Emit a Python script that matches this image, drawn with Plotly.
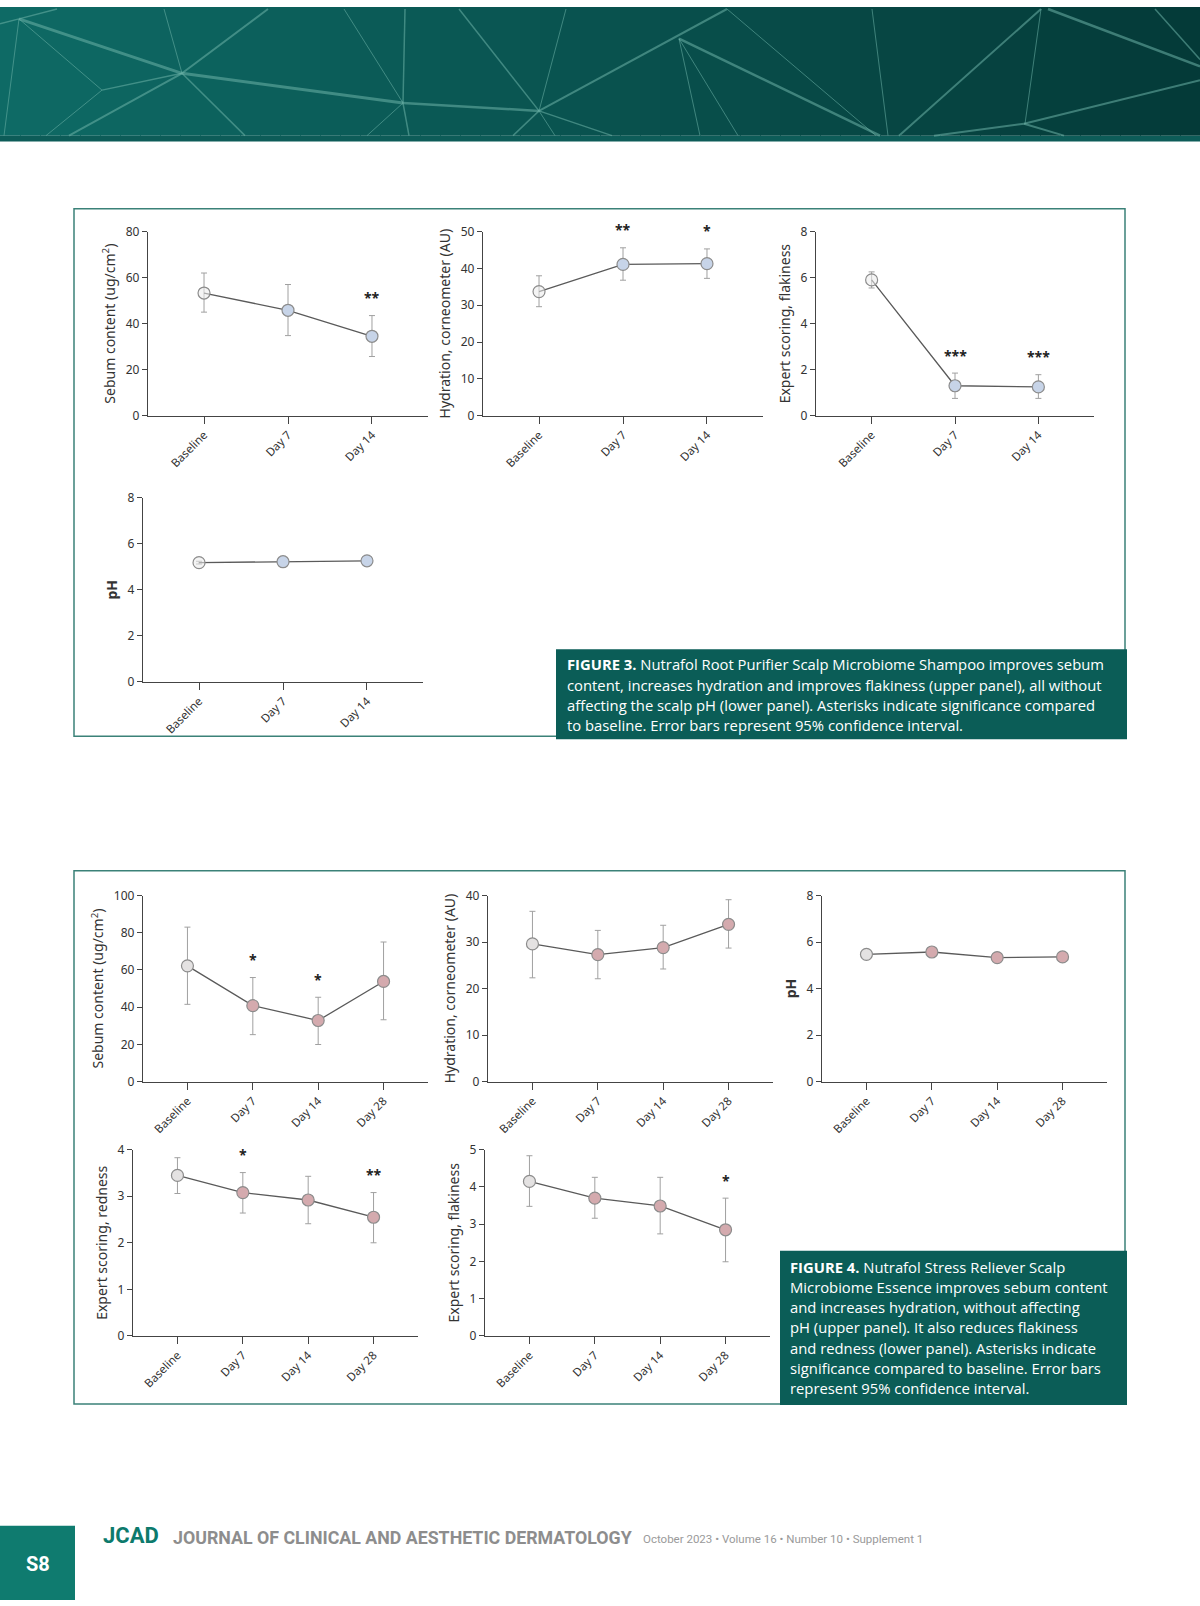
import plotly.graph_objects as go

W, H = 1200, 1606

# ---------------- DATA ----------------
cats3 = ["Baseline", "Day 7", "Day 14"]
cats4 = ["Baseline", "Day 7", "Day 14", "Day 28"]

f3_sebum_mean = [53.3, 45.8, 34.5]
f3_sebum_up = [62.0, 57.0, 43.5]
f3_sebum_lo = [45.0, 34.8, 25.7]
f3_sebum_sig = ["", "", "**"]

f3_hydr_mean = [33.7, 41.1, 41.3]
f3_hydr_up = [38.0, 45.6, 45.3]
f3_hydr_lo = [29.6, 36.8, 37.3]
f3_hydr_sig = ["", "**", "*"]

f3_flak_mean = [5.9, 1.3, 1.25]
f3_flak_up = [6.25, 1.85, 1.78]
f3_flak_lo = [5.55, 0.75, 0.75]
f3_flak_sig = ["", "***", "***"]

f3_ph_mean = [5.18, 5.22, 5.26]
f3_ph_up = [5.24, 5.27, 5.30]
f3_ph_lo = [5.12, 5.17, 5.22]
f3_ph_sig = ["", "", ""]

f4_sebum_mean = [62.2, 40.8, 32.8, 53.8]
f4_sebum_up = [83.0, 55.9, 45.3, 75.0]
f4_sebum_lo = [41.5, 25.2, 19.9, 33.2]
f4_sebum_sig = ["", "*", "*", ""]

f4_hydr_mean = [29.6, 27.3, 28.8, 33.8]
f4_hydr_up = [36.6, 32.5, 33.6, 39.1]
f4_hydr_lo = [22.3, 22.1, 24.2, 28.7]
f4_hydr_sig = ["", "", "", ""]

f4_ph_mean = [5.47, 5.57, 5.33, 5.36]
f4_ph_up = [5.52, 5.62, 5.38, 5.41]
f4_ph_lo = [5.42, 5.52, 5.28, 5.31]
f4_ph_sig = ["", "", "", ""]

f4_red_mean = [3.45, 3.08, 2.92, 2.55]
f4_red_up = [3.83, 3.51, 3.43, 3.08]
f4_red_lo = [3.06, 2.64, 2.41, 2.00]
f4_red_sig = ["", "*", "", "**"]

f4_flak_mean = [4.15, 3.70, 3.49, 2.85]
f4_flak_up = [4.84, 4.26, 4.26, 3.70]
f4_flak_lo = [3.48, 3.16, 2.74, 1.99]
f4_flak_sig = ["", "", "", "*"]

caption3 = [
    "<b>FIGURE 3.</b> Nutrafol Root Purifier Scalp Microbiome Shampoo improves sebum",
    "content, increases hydration and improves flakiness (upper panel), all without",
    "affecting the scalp pH (lower panel). Asterisks indicate significance compared",
    "to baseline. Error bars represent 95% confidence interval.",
]
caption4 = [
    "<b>FIGURE 4.</b> Nutrafol Stress Reliever Scalp",
    "Microbiome Essence improves sebum content",
    "and increases hydration, without affecting",
    "pH (upper panel). It also reduces flakiness",
    "and redness (lower panel). Asterisks indicate",
    "significance compared to baseline. Error bars",
    "represent 95% confidence interval.",
]

# ---------------- HELPERS ----------------
def px(x):
    return x / W


def py(y):
    return 1 - y / H


fig = go.Figure()
shapes = []
annotations = []

CHART_FONT = "Noto Sans, Open Sans, sans-serif"

FIG3_BASE = "rgba(235,235,235,0.55)"
FIG3_FILL = "#c7d4e8"
FIG4_BASE = "#e4e2e2"
FIG4_FILL = "#d4aaae"


def add_panel(i, cats, mean, up, lo, sig, ymax, dtick, ytitle, xd, yd, base_col, fill_col, pad):
    xa = "x" if i == 1 else f"x{i}"
    ya = "y" if i == 1 else f"y{i}"
    n = len(cats)
    colors = [base_col] + [fill_col] * (n - 1)
    err_p = [u - m for u, m in zip(up, mean)]
    err_m = [m - l for m, l in zip(mean, lo)]
    fig.add_trace(go.Scatter(
        x=cats, y=mean, xaxis=xa, yaxis=ya, mode="lines+markers",
        line=dict(color="#5a5a5a", width=1.3),
        marker=dict(size=12, color=colors, line=dict(color="#8c8c8c", width=1.2)),
        error_y=dict(type="data", symmetric=False, array=err_p, arrayminus=err_m,
                     color="#a0a0a0", thickness=1, width=3),
        showlegend=False, hoverinfo="skip",
    ))
    xkey = "xaxis" if i == 1 else f"xaxis{i}"
    ykey = "yaxis" if i == 1 else f"yaxis{i}"
    fig.update_layout(**{
        xkey: dict(domain=[px(xd[0]), px(xd[1])], anchor=ya, type="category",
                   range=[-pad, n - 1 + pad], showline=True, linecolor="#444",
                   linewidth=1.4, ticks="outside", ticklen=7, tickwidth=1.4,
                   tickcolor="#444", tickangle=-45, showgrid=False, zeroline=False,
                   tickfont=dict(family=CHART_FONT, size=11.5, color="#333"),
                   fixedrange=True),
        ykey: dict(domain=[py(yd[1]), py(yd[0])], anchor=xa, range=[0, ymax],
                   tickmode="linear", tick0=0, dtick=dtick, showline=True,
                   linecolor="#444", linewidth=1.4, ticks="outside", ticklen=5,
                   tickwidth=1.4, tickcolor="#444", showgrid=False, zeroline=False,
                   tickfont=dict(family=CHART_FONT, size=12, color="#333"),
                   title=dict(text=ytitle, standoff=6,
                              font=dict(family=CHART_FONT, size=14, color="#333")),
                   fixedrange=True),
    })
    for k, s in enumerate(sig):
        if s:
            annotations.append(dict(
                x=k, y=up[k], xref=xa, yref=ya, text="<b>" + s + "</b>", showarrow=False,
                xanchor="center", yanchor="middle", yshift=18,
                font=dict(family=CHART_FONT, size=14, color="#222"),
            ))


P3 = 0.667
P4 = 0.68
add_panel(1, cats3, f3_sebum_mean, f3_sebum_up, f3_sebum_lo, f3_sebum_sig, 80, 20,
          "Sebum content (ug/cm<sup>2</sup>)", (148, 428), (225, 411), FIG3_BASE, FIG3_FILL, P3)
add_panel(2, cats3, f3_hydr_mean, f3_hydr_up, f3_hydr_lo, f3_hydr_sig, 50, 10,
          "Hydration, corneometer (AU)", (483, 763), (225, 411), FIG3_BASE, FIG3_FILL, P3)
add_panel(3, cats3, f3_flak_mean, f3_flak_up, f3_flak_lo, f3_flak_sig, 8, 2,
          "Expert scoring, flakiness", (816, 1094), (225, 411), FIG3_BASE, FIG3_FILL, P3)
add_panel(4, cats3, f3_ph_mean, f3_ph_up, f3_ph_lo, f3_ph_sig, 8, 2,
          "<b>pH</b>", (143, 423), (494, 680), FIG3_BASE, FIG3_FILL, P3)

add_panel(5, cats4, f4_sebum_mean, f4_sebum_up, f4_sebum_lo, f4_sebum_sig, 100, 20,
          "Sebum content (ug/cm<sup>2</sup>)", (143, 428), (896, 1084), FIG4_BASE, FIG4_FILL, P4)
add_panel(6, cats4, f4_hydr_mean, f4_hydr_up, f4_hydr_lo, f4_hydr_sig, 40, 10,
          "Hydration, corneometer (AU)", (488, 773), (896, 1084), FIG4_BASE, FIG4_FILL, P4)
add_panel(7, cats4, f4_ph_mean, f4_ph_up, f4_ph_lo, f4_ph_sig, 8, 2,
          "<b>pH</b>", (822, 1107), (896, 1084), FIG4_BASE, FIG4_FILL, P4)
add_panel(8, cats4, f4_red_mean, f4_red_up, f4_red_lo, f4_red_sig, 4, 1,
          "Expert scoring, redness", (133, 418), (1153, 1341), FIG4_BASE, FIG4_FILL, P4)
add_panel(9, cats4, f4_flak_mean, f4_flak_up, f4_flak_lo, f4_flak_sig, 5, 1,
          "Expert scoring, flakiness", (485, 770), (1153, 1341), FIG4_BASE, FIG4_FILL, P4)

# ---------------- HEADER (decoration) ----------------
N = 60
c0 = (14, 106, 101)
c1 = (4, 58, 56)
for k in range(N):
    t = k / (N - 1)
    r = round(c0[0] + (c1[0] - c0[0]) * t)
    g = round(c0[1] + (c1[1] - c0[1]) * t)
    b = round(c0[2] + (c1[2] - c0[2]) * t)
    shapes.append(dict(type="rect", xref="paper", yref="paper",
                       x0=px(k * W / N), x1=px((k + 1) * W / N + 1), y0=py(128), y1=py(-2),
                       fillcolor=f"rgb({r},{g},{b})", line=dict(width=0), layer="below"))
shapes.append(dict(type="rect", xref="paper", yref="paper", x0=0, x1=1, y0=py(134), y1=py(128),
                   fillcolor="#0d5c58", line=dict(width=0), layer="below"))

segs = [
    (0, 15, 19, 10, 1.5), (19, 10, 57, 0, 1.5),
    (19, 10, 182, 65, 3), (182, 65, 403, 95, 3), (403, 95, 539, 103, 2.5),
    (539, 103, 727, 0, 2), (679, 30, 880, 128, 2.5), (679, 30, 700, 128, 1),
    (679, 30, 738, 128, 1), (727, 0, 876, 128, 1), (872, 0, 888, 128, 1),
    (1041, 0, 899, 128, 2), (1041, 0, 1025, 116, 1), (1048, 0, 1200, 58, 2.5),
    (1200, 72, 1024, 116, 2), (1024, 116, 934, 128, 2), (1024, 116, 1064, 128, 2),
    (1155, 0, 1200, 51, 1.5), (164, 0, 182, 65, 1), (182, 65, 245, 128, 1.5),
    (268, 0, 182, 65, 2), (182, 65, 69, 128, 2), (19, 10, 102, 82, 1),
    (102, 82, 46, 128, 1), (102, 82, 182, 65, 1.5), (19, 10, 4, 128, 1),
    (344, 0, 403, 95, 1), (403, 95, 409, 128, 1.5), (405, 0, 403, 95, 1.5),
    (403, 95, 367, 128, 1), (459, 0, 539, 103, 1.5), (539, 103, 555, 128, 1),
    (566, 0, 539, 103, 1), (539, 103, 513, 128, 1.5), (539, 103, 612, 128, 1.5),
]
for (x0, y0, x1, y1, w) in segs:
    shapes.append(dict(type="line", xref="paper", yref="paper",
                       x0=px(x0), y0=py(y0), x1=px(x1), y1=py(y1),
                       line=dict(color="rgba(110,178,168,0.55)", width=w)))

# ---------------- FRAMES ----------------
FRAME = "#3b8178"
shapes.append(dict(type="rect", xref="paper", yref="paper", x0=px(74), x1=px(1125),
                   y0=py(735), y1=py(202), line=dict(color=FRAME, width=1.5)))
shapes.append(dict(type="rect", xref="paper", yref="paper", x0=px(74), x1=px(1125),
                   y0=py(1410), y1=py(871), line=dict(color=FRAME, width=1.5)))

# ---------------- CAPTIONS ----------------
CAP = "#0b5d57"
shapes.append(dict(type="rect", xref="paper", yref="paper", x0=px(556), x1=px(1127),
                   y0=py(738), y1=py(647), fillcolor=CAP, line=dict(width=0)))
shapes.append(dict(type="rect", xref="paper", yref="paper", x0=px(780), x1=px(1127),
                   y0=py(1411), y1=py(1255), fillcolor=CAP, line=dict(width=0)))
CAP_FONT = "Open Sans, Noto Sans, sans-serif"
for k, line in enumerate(caption3):
    annotations.append(dict(x=px(565), y=py(662.5 + k * 20.5), xref="paper", yref="paper",
                            text=line, showarrow=False, xanchor="left", yanchor="middle",
                            font=dict(family=CAP_FONT, size=14.8, color="white")))
for k, line in enumerate(caption4):
    annotations.append(dict(x=px(788), y=py(1271 + k * 20.5), xref="paper", yref="paper",
                            text=line, showarrow=False, xanchor="left", yanchor="middle",
                            font=dict(family=CAP_FONT, size=14.8, color="white")))

# ---------------- FOOTER ----------------
shapes.append(dict(type="rect", xref="paper", yref="paper", x0=0, x1=px(75),
                   y0=py(1608), y1=py(1533), fillcolor="#0f7b6f", line=dict(width=0)))
NARROW = "Roboto, sans-serif"
annotations += [
    dict(x=px(37.5), y=py(1572), xref="paper", yref="paper", text="<b>S8</b>", showarrow=False,
         xanchor="center", yanchor="middle",
         font=dict(family=NARROW, size=20, color="white")),
    dict(x=px(101), y=py(1543), xref="paper", yref="paper", text="<b>JCAD</b>", showarrow=False,
         xanchor="left", yanchor="middle",
         font=dict(family=NARROW, size=22, color="#0d7a6c")),
    dict(x=px(171), y=py(1545), xref="paper", yref="paper",
         text="<b>JOURNAL OF CLINICAL AND AESTHETIC DERMATOLOGY</b>", showarrow=False,
         xanchor="left", yanchor="middle",
         font=dict(family=NARROW, size=17.8, color="#8d8d8d")),
    dict(x=px(641), y=py(1546), xref="paper", yref="paper",
         text="October 2023 • Volume 16 • Number 10 • Supplement 1", showarrow=False,
         xanchor="left", yanchor="middle",
         font=dict(family=NARROW, size=11.5, color="#9a9a9a")),
]

fig.update_layout(
    width=W, height=H, margin=dict(l=0, r=0, t=0, b=0, pad=0),
    paper_bgcolor="white", plot_bgcolor="rgba(0,0,0,0)",
    shapes=shapes, annotations=annotations, showlegend=False,
)

post = (
    "var de=document.documentElement;de.style.margin='0';de.style.padding='0';"
    "de.style.overflow='hidden';"
    "document.body.style.margin='0';document.body.style.padding='0';"
    "document.body.style.overflow='hidden';"
    "var d=document.getElementById('{plot_id}');"
    "d.style.position='absolute';d.style.top='0px';d.style.left='0px';"
)
fig.write_html("out.html", config={"displayModeBar": False}, post_script=post)
